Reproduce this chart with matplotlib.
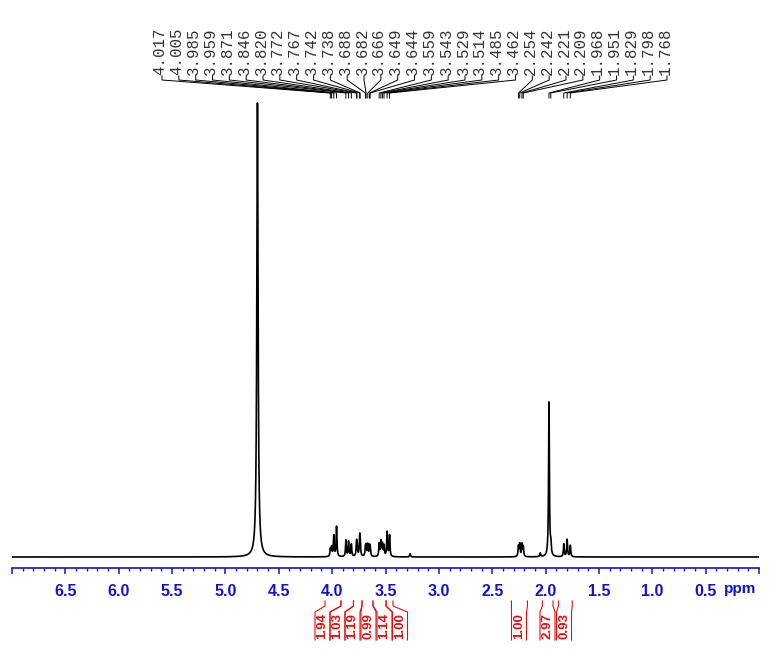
import matplotlib.pyplot as plt
import numpy as np

# picked peaks (ppm) with heights (HDO peak = 100)
peak_ppm = [4.017, 4.005, 3.985, 3.959, 3.871, 3.846, 3.820, 3.772, 3.767,
            3.742, 3.738, 3.688, 3.682, 3.666, 3.649, 3.644, 3.559, 3.543,
            3.529, 3.514, 3.485, 3.462, 2.254, 2.242, 2.221, 2.209, 1.968,
            1.951, 1.829, 1.798, 1.768]
peak_hgt = [1.6, 2.0, 4.6, 6.6, 3.6, 3.3, 2.7, 2.5, 2.3,
            3.3, 2.8, 1.8, 2.0, 2.6, 1.8, 1.6, 2.8, 3.3,
            2.6, 2.3, 5.4, 4.7, 2.3, 2.7, 2.7, 2.1, 34.0,
            2.2, 2.8, 3.8, 2.5]

# signals without a label: HDO and two small impurities
extra_ppm = [4.700, 3.270, 2.050]
extra_hgt = [100.0, 0.7, 0.8]

# integrals: (downfield/upfield limits in ppm) and values
int_hi = [4.067, 3.917, 3.800, 3.720, 3.617, 3.495, 2.320, 2.030, 1.880]
int_lo = [3.917, 3.800, 3.720, 3.617, 3.495, 3.430, 2.170, 1.930, 1.750]
int_val = ['1.94', '1.03', '1.19', '0.99', '1.14', '1.00', '1.00', '2.97', '0.93']

W, H = 769, 649
fig = plt.figure(figsize=(W / 100, H / 100), dpi=100)
ax = fig.add_axes([12 / W, (H - 568) / H, (759 - 12) / W, (568 - 97) / H])

# build the trace from lorentzian lines
x = np.linspace(7.0, 0.0, 40000)
y = np.zeros_like(x)
for p, h in zip(peak_ppm, peak_hgt):
    g = 0.0045
    y += h * g**2 / (g**2 + (x - p)**2)
for p, h in zip(extra_ppm, extra_hgt):
    g = 0.007 if h > 50 else 0.005
    y += h * g**2 / (g**2 + (x - p)**2)

ax.plot(x, y, color='black', lw=1.2)
ax.set_xlim(7.0, 0.0)
ax.set_ylim(-2.42, 101.3)

blue = '#1414cc'
for s in ['top', 'left', 'right']:
    ax.spines[s].set_visible(False)
ax.spines['bottom'].set_color(blue)
ax.spines['bottom'].set_linewidth(1.2)
ax.set_yticks([])
major = np.arange(0.0, 7.01, 0.5)
ax.set_xticks(major)
ax.set_xticklabels(['' if (m < 0.1 or m > 6.9) else '%.1f' % m for m in major])
ax.set_xticks(np.arange(0.0, 7.01, 0.1), minor=True)
ax.tick_params(axis='x', which='major', length=4.5, width=1.1, color=blue,
               labelcolor=blue, pad=7, labelsize=11.5)
ax.tick_params(axis='x', which='minor', length=2.3, width=1.0, color=blue)
for t in ax.get_xticklabels():
    t.set_fontweight('bold')
    t.set_family('Liberation Sans')
ax.text(0.18, -0.044, 'ppm', transform=ax.get_xaxis_transform(), color=blue,
        fontsize=11, fontweight='bold', family='Liberation Sans',
        ha='center', va='center')

inv = fig.transFigure.inverted()


def fx(ppm):
    px = ax.transData.transform((ppm, 0))[0]
    return inv.transform((px, 0))[0]


def fy(py):
    return 1 - py / H


# peak labels with leader lines
lab_x = np.linspace(160, 665, len(peak_ppm)) / W
for lx, p in zip(lab_x, peak_ppm):
    fig.text(lx, fy(75), '%.3f' % p, rotation=90, ha='center', va='bottom',
             family='Liberation Mono', fontsize=11.3, color='#333333')
    px = fx(p)
    fig.add_artist(plt.Line2D([lx + 2 / W, lx + 2 / W, px, px],
                              [fy(76), fy(80), fy(93), fy(98)],
                              transform=fig.transFigure, color='black', lw=0.7))

# integral labels under the axis
slot_px = [322.5, 337.5, 352.5, 368.5, 384.5, 400.0, 519.0, 547.5, 564.0]
red = '#e01010'
for hi, lo, v, c in zip(int_hi, int_lo, int_val, slot_px):
    bl, br = (c - 7.5) / W, (c + 7.5) / W
    for lim, edge in ((fx(hi), bl), (fx(lo), br)):
        fig.add_artist(plt.Line2D([lim, lim, edge, edge],
                                  [fy(601), fy(606), fy(612), fy(640)],
                                  transform=fig.transFigure, color=red, lw=0.8))
    fig.text(c / W, fy(626), v, rotation=90, ha='center', va='center',
             color=red, fontsize=9.5, fontweight='bold', family='Liberation Sans')

fig.savefig('out.png', dpi=100)
